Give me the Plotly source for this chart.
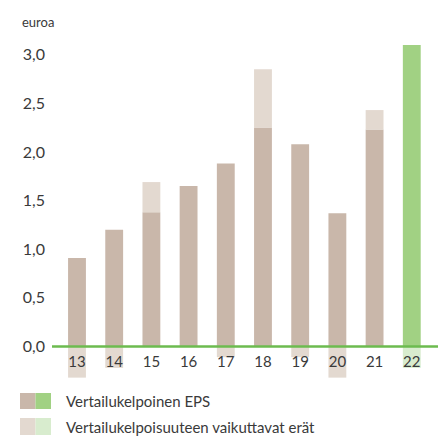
import plotly.graph_objects as go

years = ["13", "14", "15", "16", "17", "18", "19", "20", "21", "22"]
eps = [0.91, 1.20, 1.38, 1.65, 1.88, 2.25, 2.08, 1.37, 2.23, 3.10]
items = [-0.32, -0.22, 0.31, 0.0, -0.11, 0.60, -0.11, -0.32, 0.20, -0.22]
y_ticks = [0, 0.5, 1.0, 1.5, 2.0, 2.5, 3.0]
legend_labels = ["Vertailukelpoinen EPS", "Vertailukelpoisuuteen vaikuttavat erät"]

DARK, LIGHT = "#c9b7aa", "#e3d9d0"
GREEN, LGREEN = "#a1d183", "#d8ecce"
LINE = "#6cbb4f"
TXT = "#3a3a3a"
FONT = "Lato"

OFF = 8  # page body margin
W, H = 446 - OFF, 438 - OFF
L, R, T, B = 52 - OFF, 0, 30 - OFF, 52
PW, PH = W - L - R, H - T - B
YMIN, YMAX = -0.406, 3.253

def px(x):
    return (x - OFF - L) / PW

def py(y):
    return (H - B - (y - OFF)) / PH

dark_colors = [GREEN if y == "22" else DARK for y in years]
light_colors = [LGREEN if y == "22" else LIGHT for y in years]

fig = go.Figure()
fig.add_trace(go.Bar(x=years, y=eps, marker=dict(color=dark_colors, line_width=0),
                     width=0.48, name=legend_labels[0], showlegend=False))
fig.add_trace(go.Bar(x=years, y=items, marker=dict(color=light_colors, line_width=0),
                     width=0.48, name=legend_labels[1], showlegend=False))

shapes = [dict(type="line", xref="paper", yref="y", x0=0, x1=1, y0=0, y1=0,
               line=dict(color=LINE, width=2.5), layer="above")]
annotations = [dict(text="euroa", xref="paper", yref="paper", x=px(20), y=py(22),
                    xanchor="left", yanchor="middle", showarrow=False,
                    font=dict(family=FONT, size=13, color=TXT))]

rows = [(393, 409, DARK, GREEN, legend_labels[0]), (418, 435, LIGHT, LGREEN, legend_labels[1])]
for y0, y1, c1, c2, lab in rows:
    shapes.append(dict(type="rect", xref="paper", yref="paper", x0=px(20), x1=px(35.5),
                       y0=py(y1), y1=py(y0), fillcolor=c1, line_width=0))
    shapes.append(dict(type="rect", xref="paper", yref="paper", x0=px(35.5), x1=px(51),
                       y0=py(y1), y1=py(y0), fillcolor=c2, line_width=0))
    annotations.append(dict(text=lab, xref="paper", yref="paper", x=px(64), y=py((y0 + y1) / 2),
                            xanchor="left", yanchor="middle", showarrow=False,
                            font=dict(family=FONT, size=15, color=TXT)))

fig.update_layout(
    width=W, height=H, margin=dict(l=L, r=R, t=T, b=B, pad=0),
    paper_bgcolor="white", plot_bgcolor="white",
    barmode="relative", separators=", ",
    font=dict(family=FONT, size=15, color=TXT),
    shapes=shapes, annotations=annotations,
    xaxis=dict(type="category", range=[-0.672, 9.92], showgrid=False, zeroline=False,
               showline=False, ticks="", anchor="free", position=(0 - YMIN) / (YMAX - YMIN),
               ticklabelstandoff=5,
               tickfont=dict(family=FONT, size=15, color=TXT), fixedrange=True),
    yaxis=dict(range=[YMIN, YMAX], tickvals=y_ticks, tickformat=".1f", showgrid=False,
               zeroline=False, showline=False, ticks="", ticklabelstandoff=6,
               tickfont=dict(family=FONT, size=16, color=TXT)),
)

fig.write_html("out.html")
